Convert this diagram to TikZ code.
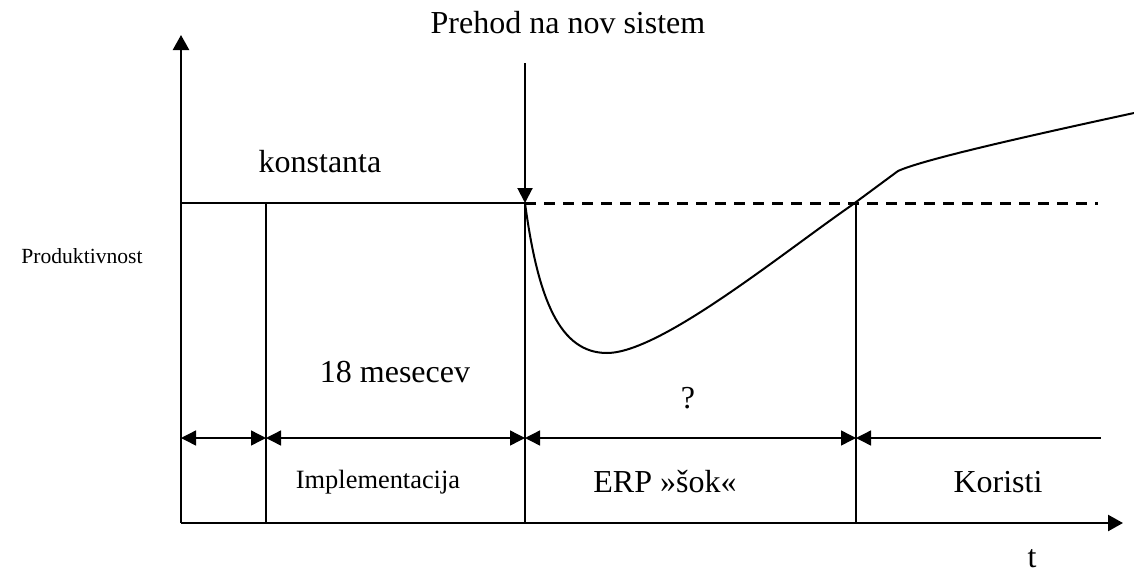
\documentclass[tikz,border=0pt]{standalone}
\usepackage{fontspec}
\setmainfont{Liberation Serif}
\usetikzlibrary{arrows.meta}

\begin{document}
\begin{tikzpicture}[x=0.5pt,y=-0.5pt,
    ax/.style={line width=1.2pt,-{Triangle[length=7.5pt,width=8pt]}},
    sep/.style={line width=0.8pt},
    dim/.style={line width=0.7pt,{Triangle[length=7.5pt,width=7.5pt]}-{Triangle[length=7.5pt,width=7.5pt]}},
    big/.style={font=\fontsize{16}{19}\selectfont,anchor=base,inner sep=0pt},
    small/.style={font=\fontsize{13.2}{16}\selectfont,anchor=base,inner sep=0pt}]
    \useasboundingbox (0,0) rectangle (1134,578);
    % axes
    \coordinate (o) at (181,523);
    \coordinate (ytop) at (181,35);
    \coordinate (xend) at (1123,523);
    \draw[ax] (o) -- (ytop);
    \draw[ax] (o) -- (xend);
    % level line and phase borders
    \coordinate (lvl) at (181,203);
    \coordinate (p1) at (266,203);
    \coordinate (p2) at (525,203);
    \coordinate (p3) at (856,203);
    \coordinate (lvlend) at (1098,203);
    \draw[line width=1.3pt] (lvl) -- (p2);
    \draw[line width=1.5pt,dash pattern=on 5.5pt off 4pt] (p2) -- (lvlend);
    \foreach \p in {p1,p2,p3}
      \draw[sep] (\p) -- (\p |- o);
    % productivity curve
    \coordinate (low) at (607,353);
    \coordinate (knee) at (898,171);
    \coordinate (cend) at (1134,113);
    \draw[line width=1pt] (p2) .. controls (538,300) and (560,353) .. (low)
      .. controls (660,353) and (780,255) .. (852,205) -- (knee)
      .. controls (920,161) and (1000,142) .. (cend);
    % changeover arrow
    \node[big] (prehod) at (568,33) {Prehod na nov sistem};
    \coordinate (down) at (525,63);
    \draw[line width=1pt,-{Triangle[length=7.5pt,width=7.5pt]}] (down) -- (p2);
    % spans
    \coordinate (d0) at (181,438);
    \coordinate (dend) at (1101,438);
    \foreach \a/\b in {d0/p1,p1/p2,p2/p3}
      \draw[dim] (\a |- d0) -- (\b |- d0);
    \draw[line width=0.7pt,{Triangle[length=7.5pt,width=7.5pt]}-] (p3 |- d0) -- (dend);
    % labels
    \node[big] (konst) at (320,172) {konstanta};
    \node[font=\fontsize{10.8}{13}\selectfont,anchor=base east,inner sep=0pt] (prod) at (143,263) {Produktivnost};
    \node[big] (mes) at (395,382) {18 mesecev};
    \node[big] (q) at (688,408) {?};
    \node[small] (impl) at (378,488) {Implementacija};
    \node[big] (erp) at (665,492) {ERP »šok«};
    \node[big] (kor) at (998,492) {Koristi};
    \node[big] (t) at (1032,567) {t};
\end{tikzpicture}
\end{document}
